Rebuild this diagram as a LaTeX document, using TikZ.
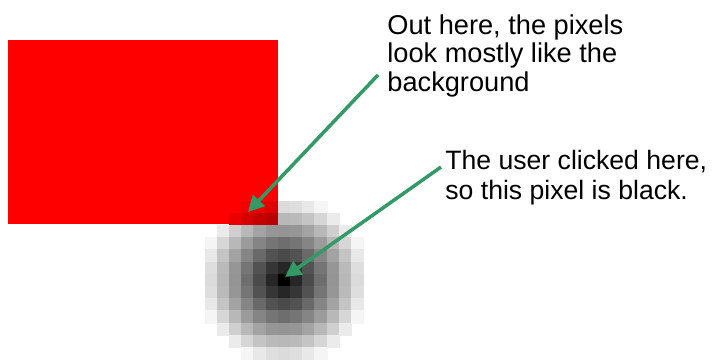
\documentclass[tikz,border=0pt]{standalone}
\usepackage{fontspec}
\setmainfont{Liberation Sans}
\usetikzlibrary{arrows.meta,positioning}
\definecolor{cR}{HTML}{ff0000}
\definecolor{cG}{HTML}{339966}
\tikzset{
  pix/.style={line width=.2pt},
  callout/.style={-{Triangle[length=8pt,width=8pt]},line width=1.75pt,cG},
  note/.style={inner sep=0pt,anchor=north west,align=left,
               font=\fontsize{13.6}{14.25}\selectfont},
}

\begin{document}
\begin{tikzpicture}[x=0.5pt,y=-0.5pt]
  \useasboundingbox (0,0) rectangle (715,360);
  \fill[white] (0,0) rectangle (715,360);
  \fill[cR] (8,40) rectangle (278,224);
  % blurred click, one square per pixel
  \foreach \i in {-6,...,6}{
    \foreach \j in {-6,...,6}{
      \pgfmathsetmacro\d{sqrt(\i*\i+\j*\j)}
      \pgfmathtruncatemacro\pct{max(0,100*(1-\d/7))}
      \def\base{white}
      \ifnum\i<0 \ifnum\j<-4 \def\base{cR}\fi\fi
      \ifnum\pct>0
        \path[pix,fill=black!\pct!\base,draw=black!\pct!\base]
          ({284+(\i)*12.2-6.1},{280+(\j)*12.2-6.1}) rectangle ++(12.2,12.2);
      \fi
    }
  }
  \coordinate (px0) at (285,277);
  \coordinate (edgepx) at (248,212);
  \node[note] (outtxt) at (387,14) {Out here, the pixels\\look mostly like the\\background};
  \node[note,font=\fontsize{13.3}{15}\selectfont] (clicktxt) at (445,150)
    {The user clicked here,\\so this pixel is black.};
  \coordinate (outfoot) at (378,75);
  \coordinate (clickfoot) at (441,167);
  \draw[callout] (outfoot) -- (edgepx);
  \draw[callout] (clickfoot) -- (px0);
\end{tikzpicture}
\end{document}
